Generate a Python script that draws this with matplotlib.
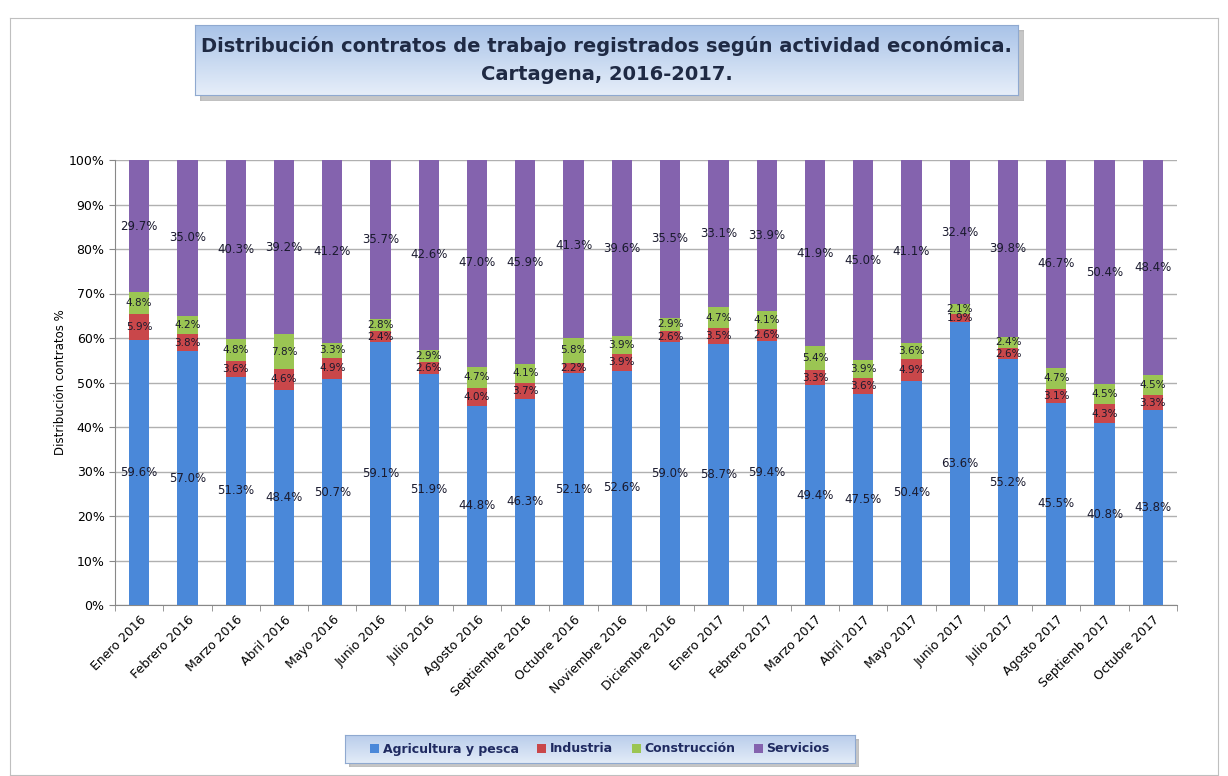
import numpy as np
import matplotlib.pyplot as plt
from matplotlib.patches import Rectangle
from matplotlib.colors import LinearSegmentedColormap

meses = ['Enero 2016', 'Febrero 2016', 'Marzo 2016', 'Abril 2016', 'Mayo 2016',
         'Junio 2016', 'Julio 2016', 'Agosto 2016', 'Septiembre 2016', 'Octubre 2016',
         'Noviembre 2016', 'Diciembre 2016', 'Enero 2017', 'Febrero 2017', 'Marzo 2017',
         'Abril 2017', 'Mayo 2017', 'Junio 2017', 'Julio 2017', 'Agosto 2017',
         'Septiemb 2017', 'Octubre 2017']
agricultura = [59.6, 57.0, 51.3, 48.4, 50.7, 59.1, 51.9, 44.8, 46.3, 52.1, 52.6,
               59.0, 58.7, 59.4, 49.4, 47.5, 50.4, 63.6, 55.2, 45.5, 40.8, 43.8]
industria = [5.9, 3.8, 3.6, 4.6, 4.9, 2.4, 2.6, 4.0, 3.7, 2.2, 3.9,
             2.6, 3.5, 2.6, 3.3, 3.6, 4.9, 1.9, 2.6, 3.1, 4.3, 3.3]
construccion = [4.8, 4.2, 4.8, 7.8, 3.3, 2.8, 2.9, 4.7, 4.1, 5.8, 3.9,
                2.9, 4.7, 4.1, 5.4, 3.9, 3.6, 2.1, 2.4, 4.7, 4.5, 4.5]
servicios = [29.7, 35.0, 40.3, 39.2, 41.2, 35.7, 42.6, 47.0, 45.9, 41.3, 39.6,
             35.5, 33.1, 33.9, 41.9, 45.0, 41.1, 32.4, 39.8, 46.7, 50.4, 48.4]

series = [('Agricultura y pesca', agricultura, '#4A88D9'),
          ('Industria', industria, '#C9474A'),
          ('Construcción', construccion, '#9BC553'),
          ('Servicios', servicios, '#8463AE')]

fig = plt.figure(figsize=(12.28, 7.76), dpi=100)
W, H = 1228, 776

def px(x0, y0, x1, y1):
    return [x0 / W, 1 - y1 / H, (x1 - x0) / W, (y1 - y0) / H]

# marco exterior
frame = fig.add_axes(px(10, 18, 1218, 775))
frame.set_xticks([]); frame.set_yticks([])
for s in frame.spines.values():
    s.set_color('#BFBFBF')
frame.set_zorder(-5)

ax = fig.add_axes(px(115, 160, 1177, 605))
x = np.arange(len(meses))
bottom = np.zeros(len(meses))
handles = []
for name, vals, col in series:
    vals = np.array(vals)
    b = ax.bar(x, vals, 0.42, bottom=bottom, color=col, label=name, zorder=3)
    handles.append(b)
    small = name in ('Industria', 'Construcción')
    for xi, v, bo in zip(x, vals, bottom):
        ax.text(xi, bo + v / 2, f'{v:.1f}%', ha='center', va='center',
                fontsize=7.5 if small else 8.5, color='#1A1A2E', zorder=4)
    bottom += vals

ax.set_xlim(-0.5, len(meses) - 0.5)
ax.set_ylim(0, 100)
ax.set_yticks(np.arange(0, 101, 10))
ax.set_yticklabels([f'{v}%' for v in range(0, 101, 10)], fontsize=9)
ax.set_xticks(x)
ax.set_xticklabels(meses, rotation=45, ha='right', rotation_mode='anchor', fontsize=9)
ax.set_xticks(np.arange(-0.5, len(meses)), minor=True)
ax.tick_params(axis='x', which='major', length=0, pad=6)
ax.tick_params(axis='x', which='minor', length=4, color='#888888')
ax.tick_params(axis='y', length=4, color='#888888')
ax.yaxis.grid(True, color='#B0B0B0', linewidth=1, zorder=0)
for s in ['top', 'right']:
    ax.spines[s].set_visible(False)
for s in ['left', 'bottom']:
    ax.spines[s].set_color('#888888')
ax.set_ylabel('Distribución contratos %', fontsize=8.5)
ax.yaxis.set_label_coords(-0.045, 0.5)

# caja del titulo
sh = fig.add_axes(px(200, 30, 1024, 101))
sh.add_patch(Rectangle((0, 0), 1, 1, color='#A0A0A0', alpha=0.6))
sh.axis('off')
tb = fig.add_axes(px(195, 25, 1018, 95))
grad = np.linspace(0, 1, 100).reshape(-1, 1)
cm = LinearSegmentedColormap.from_list('g', ['#A9C3E8', '#E6EEF9'])
tb.imshow(grad, aspect='auto', cmap=cm, extent=[0, 1, 0, 1])
tb.set_xticks([]); tb.set_yticks([])
for s in tb.spines.values():
    s.set_color('#8FA9D0')
tb.text(0.5, 0.5, 'Distribución contratos de trabajo registrados según actividad económica.\nCartagena, 2016-2017.',
        ha='center', va='center', fontsize=14, fontweight='bold', color='#1F2A44',
        linespacing=1.55, transform=tb.transAxes)

# caja de la leyenda
lsh = fig.add_axes(px(349, 739, 859, 767))
lsh.add_patch(Rectangle((0, 0), 1, 1, color='#A0A0A0', alpha=0.6))
lsh.axis('off')
lb = fig.add_axes(px(345, 735, 855, 763))
cm2 = LinearSegmentedColormap.from_list('g2', ['#B9CDEB', '#E3ECF8'])
lb.imshow(grad, aspect='auto', cmap=cm2, extent=[0, 1, 0, 1])
lb.set_xticks([]); lb.set_yticks([])
for s in lb.spines.values():
    s.set_color('#8FA9D0')
leg = lb.legend(handles, [s[0] for s in series], loc='center', ncol=4, frameon=False,
                handlelength=0.7, handleheight=0.7, handletextpad=0.3,
                columnspacing=1.5, prop={'weight': 'bold', 'size': 9})
for t in leg.get_texts():
    t.set_color('#1F2A60')

fig.savefig('out.png', dpi=100)
